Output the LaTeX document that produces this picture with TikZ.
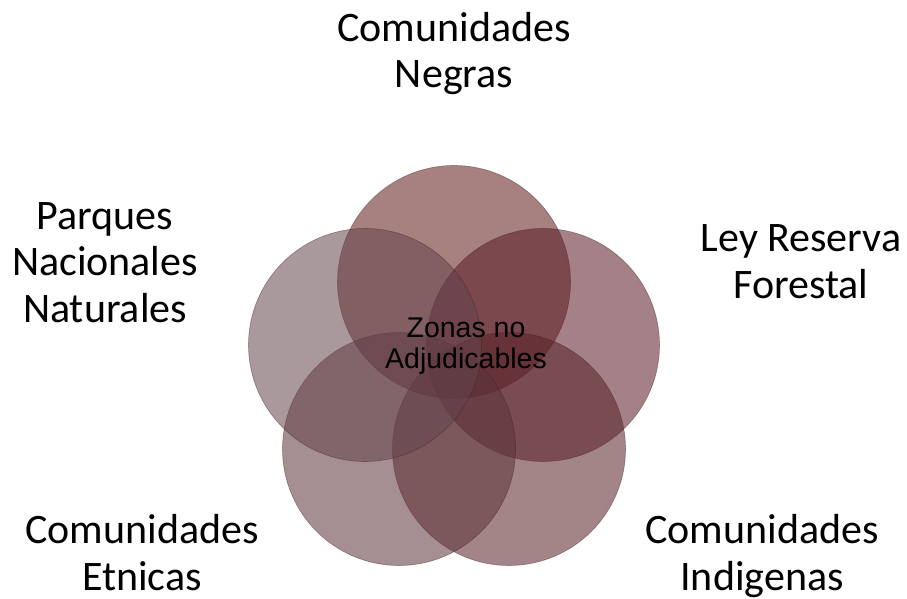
\documentclass[tikz,border=0pt]{standalone}
\usepackage{fontspec}
\setmainfont{Carlito}
\newfontfamily\arialfont{Liberation Sans}
\definecolor{cTop}{RGB}{95,24,24}
\definecolor{cRight}{RGB}{88,26,36}
\definecolor{cBR}{RGB}{88,34,40}
\definecolor{cBL}{RGB}{92,52,58}
\definecolor{cLeft}{RGB}{100,68,76}
\definecolor{cEdge}{RGB}{70,30,30}
\begin{document}
\begin{tikzpicture}[x=1pt,y=-1pt,
  circ/.style={circle,minimum size=233pt,inner sep=0pt,fill opacity=0.55,draw=cEdge,draw opacity=0.45,line width=0.6pt},
  lbl/.style={anchor=base,align=center,inner sep=0pt,font=\fontsize{42}{46.5}\selectfont},
  ctr/.style={anchor=base,align=center,inner sep=0pt,font=\arialfont\fontsize{28.5}{31}\selectfont}]
\useasboundingbox (0,0) rectangle (907,599);
\fill[white] (0,0) rectangle (907,599);
\node[circ,fill=cTop]   (ctop)   at (454,282) {};
\node[circ,fill=cRight] (cright) at (543,345) {};
\node[circ,fill=cBR]    (cbr)    at (509,449) {};
\node[circ,fill=cBL]    (cbl)    at (399,449) {};
\node[circ,fill=cLeft]  (cleft)  at (365,345) {};
\node[ctr] (zona) at (466,368) {Zonas no\\Adjudicables};
\node[lbl] (lneg) at (454,88) {Comunidades\\Negras};
\node[lbl] (lpar) at (105,322) {Parques\\Nacionales\\Naturales};
\node[lbl] (lley) at (801,298) {Ley Reserva\\Forestal};
\node[lbl] (letn) at (142,590) {Comunidades\\Etnicas};
\node[lbl] (lind) at (762,590) {Comunidades\\Indigenas};
\end{tikzpicture}
\end{document}
